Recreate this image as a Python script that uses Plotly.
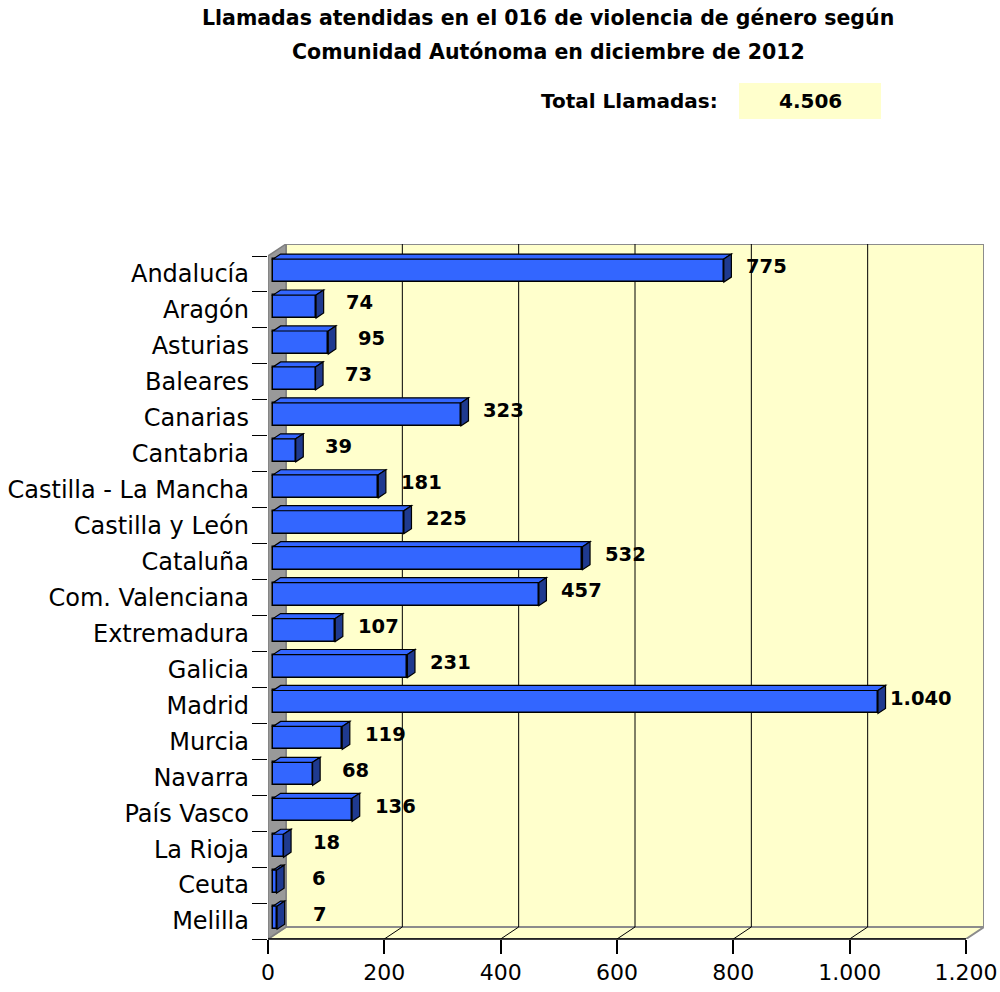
import plotly.graph_objects as go

# ---------------- data ----------------
categories = ["Andalucía", "Aragón", "Asturias", "Baleares", "Canarias", "Cantabria",
              "Castilla - La Mancha", "Castilla y León", "Cataluña", "Com. Valenciana",
              "Extremadura", "Galicia", "Madrid", "Murcia", "Navarra", "País Vasco",
              "La Rioja", "Ceuta", "Melilla"]
values = [775, 74, 95, 73, 323, 39, 181, 225, 532, 457, 107, 231, 1040, 119, 68, 136, 18, 6, 7]
x_tickvals = [0, 200, 400, 600, 800, 1000, 1200]
x_ticktext = ["0", "200", "400", "600", "800", "1.000", "1.200"]
title_lines = ["Llamadas atendidas en el 016 de violencia de género según",
               "Comunidad Autónoma en diciembre de 2012"]
total_label = "Total Llamadas:"
total_value = "4.506"

def fmt(v):
    return f"{v:,}".replace(",", ".")

# ---------------- layout geometry (pixels) ----------------
W, H = 1000, 992
PL, PR, PT, PB = 268, 984, 244, 939      # plot area edges
FRONT_W = 698                            # front-plane width for 0..XMAX
DX, DY = 18, 12                          # 3D depth offset of back wall
XMAX = x_tickvals[-1]
n = len(categories)
x_per_px = XMAX / FRONT_W
cat_px = (PB - (PT + DY)) / n
dx_d = DX * x_per_px
dy_d = DY / cat_px
x_range = [0, (PR - PL) * x_per_px]
y_range = [n - 0.5, -0.5 - dy_d]

def paper_x(px):
    return (px - PL) / (PR - PL)

def paper_y(py):
    return (PB - py) / (PB - PT)

FRONT_F, DEPTH_F, BAR_W = 0.28, 0.42, 0.64
BLUE, BLUE_SIDE, BLUE_TOP = "#3366FF", "#1F3A8F", "#3366FF"
YELLOW = "#FFFFCC"
GRAY = "#8C8C8C"
FONT = "DejaVu Sans"

pos = list(range(n))
base_x = FRONT_F * dx_d
bar_y = [p - FRONT_F * dy_d for p in pos]

fig = go.Figure()
fig.add_trace(go.Bar(
    x=values, y=bar_y, base=[base_x] * n, orientation="h", width=BAR_W,
    marker=dict(color=BLUE, line=dict(color="black", width=1.5)),
    hovertext=categories, hoverinfo="text+x", showlegend=False,
))

shapes = []
# back wall
shapes.append(dict(type="rect", xref="x", yref="y", layer="below",
                   x0=dx_d, x1=XMAX + dx_d, y0=-0.5 - dy_d, y1=n - 0.5 - dy_d,
                   fillcolor=YELLOW, line=dict(color=GRAY, width=2)))
# floor
shapes.append(dict(type="path", xref="x", yref="y", layer="below",
                   path=f"M0,{n-0.5} L{XMAX},{n-0.5} L{XMAX+dx_d},{n-0.5-dy_d} L{dx_d},{n-0.5-dy_d} Z",
                   fillcolor=YELLOW, line=dict(color=GRAY, width=2)))
# left wall
shapes.append(dict(type="path", xref="x", yref="y", layer="below",
                   path=f"M0,-0.5 L{dx_d},{-0.5-dy_d} L{dx_d},{n-0.5-dy_d} L0,{n-0.5} Z",
                   fillcolor="#999999", line=dict(color="#7F7F7F", width=1.5)))
# gridlines on back wall + floor
for v in x_tickvals[1:-1]:
    shapes.append(dict(type="path", xref="x", yref="y", layer="below",
                       path=f"M{v+dx_d},{-0.5-dy_d} L{v+dx_d},{n-0.5-dy_d} L{v},{n-0.5}",
                       line=dict(color="black", width=1)))
# front axis line
shapes.append(dict(type="line", xref="x", yref="paper", layer="above",
                   x0=0, x1=XMAX, y0=0, y1=0, line=dict(color="black", width=1.5)))

# 3D faces of bars
for p, v in zip(bar_y, values):
    yt = p - BAR_W / 2
    yb = p + BAR_W / 2
    x0 = base_x
    x1 = base_x + v
    ddx = DEPTH_F * dx_d
    ddy = DEPTH_F * dy_d
    shapes.append(dict(type="path", xref="x", yref="y", layer="above",
                       path=f"M{x0},{yt} L{x1},{yt} L{x1+ddx},{yt-ddy} L{x0+ddx},{yt-ddy} Z",
                       fillcolor=BLUE_TOP, line=dict(color="black", width=1.2)))
    shapes.append(dict(type="path", xref="x", yref="y", layer="above",
                       path=f"M{x1},{yt} L{x1+ddx},{yt-ddy} L{x1+ddx},{yb-ddy} L{x1},{yb} Z",
                       fillcolor=BLUE_SIDE, line=dict(color="black", width=1.2)))

# total box
shapes.append(dict(type="rect", xref="paper", yref="paper", layer="below",
                   x0=paper_x(739), x1=paper_x(881), y0=paper_y(119), y1=paper_y(83),
                   fillcolor=YELLOW, line=dict(width=0)))

annotations = []
for p, v in zip(pos, values):
    annotations.append(dict(x=v, y=p, xref="x", yref="y", text=fmt(v), showarrow=False,
                            xanchor="center", yanchor="middle", xshift=48, yshift=7,
                            font=dict(family=FONT, size=19.5, color="black", weight="bold")))
for i, line in enumerate(title_lines):
    annotations.append(dict(x=paper_x(548), y=paper_y(18 + 34 * i), xref="paper", yref="paper",
                            text=f"<b>{line}</b>", showarrow=False,
                            xanchor="center", yanchor="middle",
                            font=dict(family=FONT, size=20.5, color="black")))
annotations.append(dict(x=paper_x(720), y=paper_y(101), xref="paper", yref="paper",
                        text=f"<b>{total_label}</b>", showarrow=False,
                        xanchor="right", yanchor="middle",
                        font=dict(family=FONT, size=20, color="black")))
annotations.append(dict(x=paper_x(810), y=paper_y(101), xref="paper", yref="paper",
                        text=f"<b>{total_value}</b>", showarrow=False,
                        xanchor="center", yanchor="middle",
                        font=dict(family=FONT, size=20, color="black")))

fig.update_layout(
    template="none",
    width=W, height=H,
    margin=dict(l=PL, r=W - PR, t=PT, b=H - PB, pad=0, autoexpand=False),
    paper_bgcolor="white", plot_bgcolor="white",
    shapes=shapes, annotations=annotations,
    bargap=0, showlegend=False,
    font=dict(family=FONT, color="black"),
    xaxis=dict(range=x_range, tickmode="array", tickvals=x_tickvals, ticktext=x_ticktext,
               ticks="outside", ticklen=14, tickcolor="black", tickwidth=1.5,
               showgrid=False, zeroline=False, showline=False, automargin=False,
               tickfont=dict(family=FONT, size=22, color="black"), fixedrange=True),
    yaxis=dict(range=y_range, tickmode="array", tickvals=pos, ticktext=categories,
               ticks="", showgrid=False, zeroline=False, showline=False, automargin=False,
               ticklabelstandoff=18,
               minor=dict(tickmode="array", tickvals=[p + 0.5 for p in [-1] + pos],
                          ticks="outside", ticklen=15, tickcolor="black", tickwidth=1.2),
               tickfont=dict(family=FONT, size=24, color="black"), fixedrange=True),
)

fig.write_html("out.html", config={"displayModeBar": False},
               post_script="document.body.style.margin='0';document.body.style.overflow='hidden';")
